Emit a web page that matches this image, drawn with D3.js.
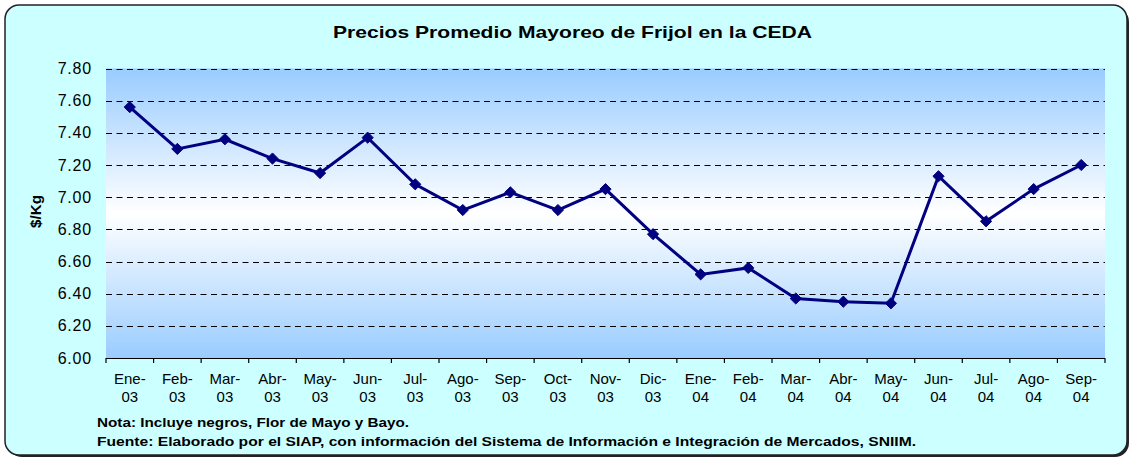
<!DOCTYPE html>
<html><head><meta charset="utf-8">
<script src="https://cdn.jsdelivr.net/npm/d3@7"></script>
<style>html,body{margin:0;padding:0;background:#fff;}svg{display:block;}</style>
</head><body>
<svg id="chart" width="1131" height="458"></svg>
<script>
const categories = ["Ene-03","Feb-03","Mar-03","Abr-03","May-03","Jun-03","Jul-03","Ago-03","Sep-03","Oct-03","Nov-03","Dic-03",
  "Ene-04","Feb-04","Mar-04","Abr-04","May-04","Jun-04","Jul-04","Ago-04","Sep-04"];
const prices = [7.56,7.30,7.36,7.24,7.15,7.37,7.08,6.92,7.03,6.92,7.05,6.77,6.52,6.56,6.37,6.35,6.34,7.13,6.85,7.05,7.20];
const yTicks = [6.00,6.20,6.40,6.60,6.80,7.00,7.20,7.40,7.60,7.80];
const title = "Precios Promedio Mayoreo de Frijol en la CEDA";
const yLabel = "$/Kg";
const notes = ["Nota: Incluye negros, Flor de Mayo y Bayo.",
  "Fuente: Elaborado por el SIAP, con información del Sistema de Información e Integración de Mercados, SNIIM."];

const svg = d3.select("#chart");
const plot = {left:106, right:1105, top:68.5, bottom:358};
const font = "'Liberation Sans', Arial, sans-serif";

const defs = svg.append("defs");
const grad = defs.append("linearGradient").attr("id","bg").attr("x1",0).attr("y1",0).attr("x2",0).attr("y2",1);
grad.append("stop").attr("offset","0%").attr("stop-color","#99CCFF");
grad.append("stop").attr("offset","50%").attr("stop-color","#FFFFFF");
grad.append("stop").attr("offset","100%").attr("stop-color","#99CCFF");

// outer frame with shadow
svg.append("rect").attr("x",8).attr("y",8).attr("width",1121).attr("height",449).attr("rx",14).attr("fill","#222");
svg.append("rect").attr("x",5).attr("y",5).attr("width",1122).attr("height",450).attr("rx",14)
  .attr("fill","#CCFFFF").attr("stroke","#222").attr("stroke-width",1.5);

const x = d3.scaleBand().domain(categories).range([plot.left, plot.right]).padding(0);
const y = d3.scaleLinear().domain([6.0, 7.8]).range([plot.bottom, plot.top]);

svg.append("rect").attr("x",plot.left).attr("y",plot.top).attr("width",plot.right-plot.left)
  .attr("height",plot.bottom-plot.top).attr("fill","url(#bg)");

// gridlines
svg.append("g").selectAll("line").data(yTicks.filter(d=>d>6.0)).join("line")
  .attr("x1",plot.left).attr("x2",plot.right)
  .attr("y1",d=>Math.round(y(d))+0.5).attr("y2",d=>Math.round(y(d))+0.5)
  .attr("stroke","#000").attr("stroke-width",1).attr("stroke-dasharray","6,4.5");

// y labels
const yAxis = d3.axisLeft(y).tickValues(yTicks).tickFormat(d3.format(".2f")).tickSize(0).tickPadding(14);
const gy = svg.append("g").attr("transform",`translate(${plot.left},0)`).call(yAxis);
gy.select(".domain").remove();
gy.selectAll("text").attr("font-family",font).attr("font-size",16).attr("fill","#000")
  .attr("letter-spacing","0.8px");

// x axis
const xAxis = d3.axisBottom(x).tickSize(0).tickFormat("");
const gx = svg.append("g").attr("transform",`translate(0,${plot.bottom})`).call(xAxis);
gx.select(".domain").attr("stroke","#000").attr("stroke-width",1.2).attr("d",`M${plot.left},0.5H${plot.right}`);
const bounds = categories.map(c=>x(c)).concat([plot.right]);
gx.selectAll(".bt").data(bounds).join("line").attr("class","bt")
  .attr("x1",d=>d).attr("x2",d=>d).attr("y1",0).attr("y2",5).attr("stroke","#000").attr("stroke-width",1.2);
const lab = svg.append("g");
categories.forEach(c=>{
  const parts = c.split("-");
  const cx = x(c)+x.bandwidth()/2;
  const t = lab.append("text").attr("font-family",font).attr("font-size",15).attr("fill","#000")
    .attr("text-anchor","middle");
  t.append("tspan").attr("x",cx).attr("y",384).text(parts[0]+"-");
  t.append("tspan").attr("x",cx).attr("y",402).text(parts[1]);
});

// line + markers
const line = d3.line().x((d,i)=>x(categories[i])+x.bandwidth()/2).y(d=>y(d));
svg.append("path").datum(prices).attr("d",line).attr("fill","none").attr("stroke","#000080").attr("stroke-width",3);
svg.append("g").selectAll("path").data(prices).join("path")
  .attr("d",d3.symbol().type(d3.symbolDiamond2).size(80))
  .attr("transform",(d,i)=>`translate(${x(categories[i])+x.bandwidth()/2},${y(d)})`)
  .attr("fill","#000080").attr("stroke","#000080").attr("stroke-width",1);

// title
svg.append("text").attr("x",333).attr("y",38).attr("font-family",font)
  .attr("font-weight","bold").attr("font-size",16.5).attr("fill","#000")
  .attr("textLength",479).attr("lengthAdjust","spacingAndGlyphs").text(title);

// y label
svg.append("text").attr("transform","translate(41,228) rotate(-90)")
  .attr("font-family",font).attr("font-weight","bold").attr("font-size",14.5).attr("fill","#000")
  .attr("textLength",33).attr("lengthAdjust","spacingAndGlyphs").text(yLabel);

// notes
const noteLens = [312, 819];
svg.append("g").selectAll("text").data(notes).join("text")
  .attr("x",97).attr("y",(d,i)=>427+i*19).attr("font-family",font).attr("font-weight","bold")
  .attr("font-size",13).attr("fill","#000")
  .attr("textLength",(d,i)=>noteLens[i]).attr("lengthAdjust","spacingAndGlyphs").text(d=>d);
</script>
</body></html>
